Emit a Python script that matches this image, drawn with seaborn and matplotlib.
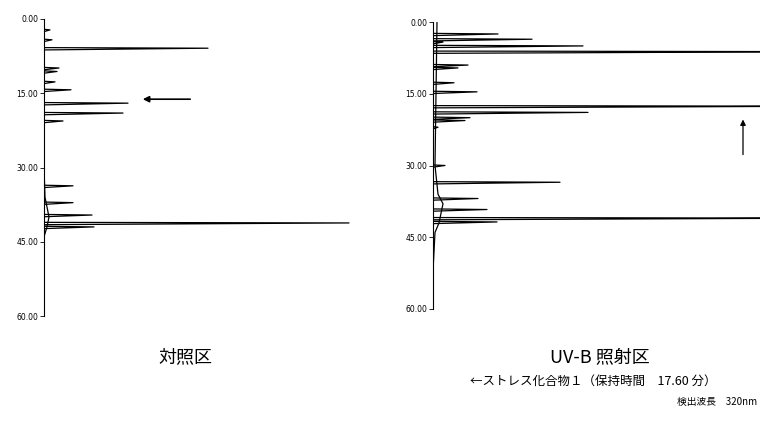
import numpy as np
import pandas as pd
import seaborn as sns
import matplotlib.pyplot as plt

# retention time (min) and peak height (arbitrary units)
ctrl_times = [2.2, 4.2, 5.9, 9.9, 10.6, 12.7, 14.3, 17.0, 19.0, 20.6,
              33.7, 37.1, 39.6, 41.2, 42.0]
ctrl_heights = [6, 8, 164, 15, 13, 11, 27, 84, 79, 19,
                29, 29, 48, 305, 50]

uvb_times = [2.5, 3.6, 4.2, 5.0, 6.2, 9.0, 9.6, 12.7, 14.6, 17.6, 18.9,
             20.0, 20.6, 22.0, 30.0, 33.5, 36.9, 39.2, 41.0, 41.8]
uvb_heights = [65, 99, 10, 150, 400, 35, 25, 21, 44, 400, 155,
               37, 32, 5, 12, 127, 45, 54, 400, 64]

# slow baseline drift
ctrl_base_t = [0, 30, 36, 38, 40, 42, 44, 60]
ctrl_base_v = [0, 0, 1, 3, 5, 3, 0, 0]
uvb_base_t = [0, 15, 30, 36, 38, 42, 44, 52, 60]
uvb_base_v = [4, 3, 2, 5, 10, 6, 2, 0, 0]

time_ticks = [0, 15, 30, 45, 60]
tick_labels = ["0.00", "15.00", "30.00", "45.00", "60.00"]


def trace(times, heights):
    rows = [(0.0, 0.0)]
    for t, h in zip(times, heights):
        rows += [(t - 0.12, 0.0), (t, h), (t + 0.35, 0.0)]
    rows.append((60.0, 0.0))
    return pd.DataFrame(rows, columns=["time", "signal"])


sns.set_style("white")
plt.rcParams["font.family"] = ["Noto Sans CJK JP", "DejaVu Sans"]
plt.rcParams["text.color"] = "black"
plt.rcParams["ytick.color"] = "black"

fig = plt.figure(figsize=(7.6, 4.28), dpi=100)
ax1 = fig.add_axes([44 / 760, 1 - 316 / 428, 336 / 760, 297 / 428])
ax2 = fig.add_axes([433 / 760, 1 - 309 / 428, 327 / 760, 287 / 428])

panels = [(ax1, ctrl_times, ctrl_heights, ctrl_base_t, ctrl_base_v, 336),
          (ax2, uvb_times, uvb_heights, uvb_base_t, uvb_base_v, 327)]

for ax, t, h, bt, bv, xmax in panels:
    df = trace(t, h)
    sns.lineplot(data=df, x="signal", y="time", sort=False, estimator=None,
                 orient="y", color="black", lw=0.9, ax=ax)
    sns.lineplot(x=bv, y=bt, sort=False, estimator=None, orient="y",
                 color="black", lw=0.9, ax=ax)
    ax.set_xlim(0, xmax)
    ax.set_ylim(60, 0)
    ax.set_yticks(time_ticks)
    ax.set_yticklabels(tick_labels, fontsize=5.5, family="DejaVu Sans",
                       color="black")
    ax.set_xticks([])
    ax.set_xlabel("")
    ax.set_ylabel("")
    for s in ["top", "right", "bottom"]:
        ax.spines[s].set_visible(False)
    ax.spines["left"].set_linewidth(0.8)
    ax.spines["left"].set_color("black")
    ax.tick_params(axis="y", left=True, length=3, width=0.6, pad=1,
                   direction="out", color="black")
    ax.patch.set_alpha(0)

# arrows marking stress compound 1
ax1.annotate("", xy=(96, 16.2), xytext=(149, 16.2),
             arrowprops=dict(arrowstyle="-|>", color="black", lw=1.2,
                             mutation_scale=9))
ax2.annotate("", xy=(310, 19.8), xytext=(310, 28.3),
             arrowprops=dict(arrowstyle="-|>", color="black", lw=0.9,
                             mutation_scale=8))

fig.text(185 / 760, 1 - 357 / 428, "対照区", ha="center", va="center",
         fontsize=13, color="black")
fig.text(600 / 760, 1 - 357 / 428, "UV-B 照射区", ha="center", va="center",
         fontsize=13, color="black")
fig.text(593 / 760, 1 - 381 / 428, "←ストレス化合物１（保持時間　17.60 分）",
         ha="center", va="center", fontsize=9, color="black")
fig.text(757 / 760, 1 - 402 / 428, "検出波長　320nm", ha="right",
         va="center", fontsize=7, color="black")

fig.savefig("out.png", dpi=100)
